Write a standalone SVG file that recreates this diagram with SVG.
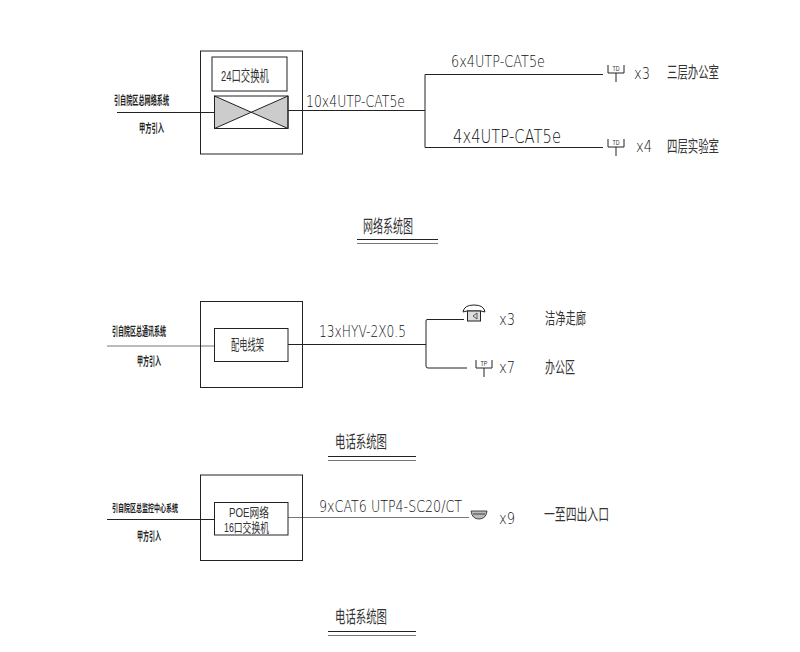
<svg xmlns="http://www.w3.org/2000/svg" width="800" height="652" viewBox="0 0 800 652">
<defs>
<g id="tp"><path d="M0 1V9H16V1M8 9V18" fill="none" stroke="#222" stroke-width="1"/></g>
</defs>
<style>
.l{fill:none;stroke:#222;stroke-width:1}
.g{fill:none;stroke:#777;stroke-width:1}
text{font-family:"Liberation Sans","Noto Sans CJK SC",sans-serif;fill:#333}
.la{font-family:"DejaVu Sans",sans-serif;font-weight:200;fill:#111;font-size:16px}
.cn{font-size:16px}
.s{font-size:12px;font-weight:700;fill:#222}
.t{font-size:7px;font-family:"Liberation Sans",sans-serif;font-weight:400}
</style>
<rect width="800" height="652" fill="#fff"/>
<g id="connectors">
<path class="l" d="M117 112.500H228"/>
<path class="l" d="M286 110.500H425M603 74.500H425V147.500H603"/>
<path class="g" d="M107 346H214"/>
<path class="l" d="M288 344.500H426M464 319.500H427Q426 319.500 426 321V366Q426 368 428 368H467"/>
<path class="l" d="M107 519.500H214"/>
<path class="g" d="M288 517.500H469"/>
</g>
<g id="switch-network">
<rect class="l" x="200.500" y="51" width="102" height="103"/>
<rect class="l" x="212" y="57" width="75" height="34"/>
<path d="M214.500 96L288 128.500V96L214.500 128.500Z" fill="#ccc" stroke="#222"/>
<rect class="l" x="214.500" y="96" width="73.500" height="32.500"/>
<text x="221" y="81" font-size="15" textLength="48" lengthAdjust="spacingAndGlyphs">24口交换机</text>
</g>
<g id="rack-phone">
<rect class="l" x="200.500" y="301.500" width="102" height="86"/>
<rect class="l" x="214.500" y="328.500" width="73.500" height="33"/>
<text x="231" y="350" font-size="15" textLength="33" lengthAdjust="spacingAndGlyphs">配电线架</text>
</g>
<g id="switch-poe">
<rect class="l" x="200.500" y="475" width="102" height="85.500"/>
<rect class="l" x="214.500" y="502.500" width="73.500" height="32.500"/>
<text x="229" y="517" font-size="13" textLength="40" lengthAdjust="spacingAndGlyphs">POE网络</text>
<text x="224" y="532" font-size="13" textLength="45" lengthAdjust="spacingAndGlyphs">16口交换机</text>
</g>
<g id="outlets">
<use href="#tp" x="608" y="64"/><text x="612.500" y="71" class="t" textLength="7" lengthAdjust="spacingAndGlyphs">TD</text>
<use href="#tp" x="608" y="138"/><text x="612.500" y="145" class="t" textLength="7" lengthAdjust="spacingAndGlyphs">TD</text>
<use href="#tp" x="476" y="359"/><text x="480.500" y="366" class="t" textLength="7" lengthAdjust="spacingAndGlyphs">TP</text>
<path d="M463 312Q464 305 474 305Q484 305 485 312L481 311H467Z" fill="none" stroke="#222"/>
<rect x="467.500" y="311" width="13" height="10" fill="#ddd" stroke="#222"/>
<path d="M473 316L477 313V319Z" fill="none" stroke="#222" stroke-width=".7"/>
<path d="M471 511H487Q486 519 479 519Q472 519 471 511ZM473 514H485" fill="#bbb" stroke="#222" stroke-width=".8"/>
</g>
<g id="labels">
<text x="114" y="105" class="s" textLength="55" lengthAdjust="spacingAndGlyphs">引自院区总网络系统</text>
<text x="139" y="133" class="s" textLength="25" lengthAdjust="spacingAndGlyphs">甲方引入</text>
<text x="306" y="107" class="la" style="font-size:16px" textLength="99" lengthAdjust="spacingAndGlyphs">10x4UTP-CAT5e</text>
<text x="451" y="67" class="la" style="font-size:15px" textLength="94" lengthAdjust="spacingAndGlyphs">6x4UTP-CAT5e</text>
<text x="453" y="143" class="la" style="font-size:19px" textLength="108" lengthAdjust="spacingAndGlyphs">4x4UTP-CAT5e</text>
<text x="634" y="79" class="la" textLength="16" lengthAdjust="spacingAndGlyphs">x3</text>
<text x="636" y="152" class="la" textLength="16" lengthAdjust="spacingAndGlyphs">x4</text>
<text x="667" y="78" class="cn" textLength="52" lengthAdjust="spacingAndGlyphs">三层办公室</text>
<text x="667" y="152" class="cn" textLength="52" lengthAdjust="spacingAndGlyphs">四层实验室</text>
<text x="363" y="233" font-size="18" textLength="50" lengthAdjust="spacingAndGlyphs">网络系统图</text>
<text x="112" y="336" class="s" textLength="54" lengthAdjust="spacingAndGlyphs">引自院区总通讯系统</text>
<text x="137" y="366" class="s" textLength="24" lengthAdjust="spacingAndGlyphs">甲方引入</text>
<text x="319" y="337" class="la" style="font-size:16.500px" textLength="87" lengthAdjust="spacingAndGlyphs">13xHYV-2X0.5</text>
<text x="499" y="325" class="la" textLength="16" lengthAdjust="spacingAndGlyphs">x3</text>
<text x="499" y="373" class="la" textLength="16" lengthAdjust="spacingAndGlyphs">x7</text>
<text x="545" y="324" class="cn" textLength="41" lengthAdjust="spacingAndGlyphs">洁净走廊</text>
<text x="545" y="373" class="cn" textLength="30" lengthAdjust="spacingAndGlyphs">办公区</text>
<text x="335" y="448" font-size="17" textLength="52" lengthAdjust="spacingAndGlyphs">电话系统图</text>
<text x="112" y="512" class="s" style="font-size:10.500px" textLength="66" lengthAdjust="spacingAndGlyphs">引自院区总监控中心系统</text>
<text x="137" y="541" class="s" textLength="24" lengthAdjust="spacingAndGlyphs">甲方引入</text>
<text x="319" y="512" class="la" style="font-size:16px" textLength="143" lengthAdjust="spacingAndGlyphs">9xCAT6 UTP4-SC20/CT</text>
<text x="499" y="524" class="la" style="font-size:15px" textLength="16" lengthAdjust="spacingAndGlyphs">x9</text>
<text x="544" y="520" class="cn" textLength="65" lengthAdjust="spacingAndGlyphs">一至四出入口</text>
<text x="335" y="623" font-size="17" textLength="52" lengthAdjust="spacingAndGlyphs">电话系统图</text>
<path class="l" d="M357 239.500H438M328 456.500H416M328 631.500H416"/>
<path class="g" d="M357 243.500H438M328 460.500H416M328 635.500H416"/>
</g>
</svg>
